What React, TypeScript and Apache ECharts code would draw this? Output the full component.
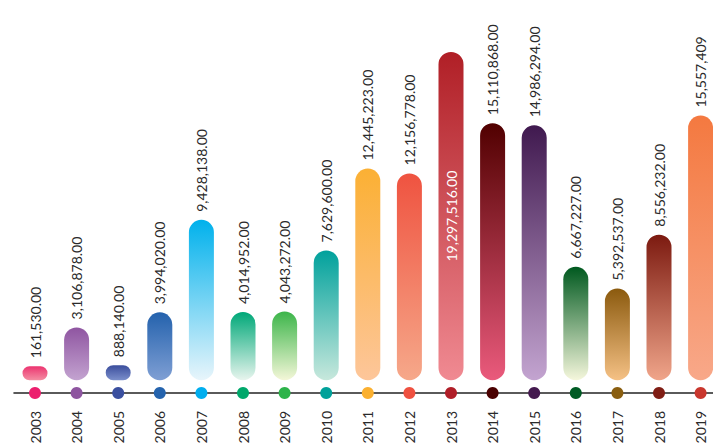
import React, { useEffect, useRef } from "react";
import * as echarts from "echarts";

const years = ["2003", "2004", "2005", "2006", "2007", "2008", "2009", "2010", "2011", "2012", "2013", "2014", "2015", "2016", "2017", "2018", "2019"];
const values = [161530, 3106878, 888140, 3994020, 9428138, 4014952, 4043272, 7629600, 12445223, 12156778, 19297516, 15110868, 14986294, 6667227, 5392537, 8556232, 15557409];
const labelDecimals = [2, 2, 2, 2, 2, 2, 2, 2, 2, 2, 2, 2, 2, 2, 2, 2, 0];
const insideLabel = [false, false, false, false, false, false, false, false, false, false, true, false, false, false, false, false, false];
const topColors = ["#ec3470", "#8f55a1", "#3a4d9c", "#2462ad", "#00b1ec", "#00a878", "#3cb54a", "#00a19c", "#fbb034", "#ef5340", "#b01f26", "#510000", "#40194f", "#00591f", "#8b5a0e", "#7c1a10", "#f47940"];
const bottomColors = ["#f48ea3", "#c3a3d0", "#7b8fcb", "#7f9fd4", "#e8f5fb", "#e8f5ee", "#f4f7d8", "#c7e8dc", "#fdc69a", "#f6a88a", "#f08a92", "#ea5a7c", "#c3a4d0", "#f5f7dc", "#f5c185", "#f0a58a", "#f8a889"];
const dotColors = ["#ec1f6e", "#8e55a0", "#3a4f9f", "#2563ad", "#00aeef", "#00a86b", "#2db34a", "#00a19a", "#fbb030", "#ef5140", "#b01e28", "#4a0000", "#44194f", "#005b24", "#8a5e10", "#7f1d14", "#c9372e"];
const yMin = -750000;
const yMax = 20000000;

const FONT = "Lato";

function fmt(v: number, d: number) {
  return v.toLocaleString("en-US", { minimumFractionDigits: d, maximumFractionDigits: d });
}

export default function App() {
  const ref = useRef<HTMLDivElement>(null);
  useEffect(() => {
    document.body.style.margin = "0";
    const chart = echarts.init(ref.current!, null, { renderer: "svg" });
    const barData = values.map((v, i) => ({
      value: v,
      itemStyle: {
        color: new echarts.graphic.LinearGradient(0, 0, 0, 1, [
          { offset: 0, color: topColors[i] },
          { offset: 1, color: bottomColors[i] },
        ]),
      },
      label: insideLabel[i]
        ? { position: "inside", align: "center", verticalAlign: "middle", color: "#ffffff" }
        : undefined,
    }));
    const dotData = years.map((_, i) => ({ value: yMin, itemStyle: { color: dotColors[i], opacity: 1 } }));
    chart.setOption({
      animation: false,
      grid: { left: 14.2, width: 707.2, top: 40, bottom: 52, outerBoundsMode: "none" },
      xAxis: {
        type: "category",
        data: years,
        axisLine: { onZero: false, lineStyle: { color: "#5a5a5a", width: 2 } },
        axisTick: { show: false },
        axisLabel: { rotate: 90, margin: 18, color: "#2a2a2a", fontFamily: FONT, fontSize: 14 },
      },
      yAxis: { type: "value", min: yMin, max: yMax, show: false, splitLine: { show: false } },
      series: [
        {
          type: "bar",
          data: barData,
          barWidth: 25,
          barMinHeight: 14,
          itemStyle: { borderRadius: 12.5 },
          label: {
            show: true,
            position: "top",
            distance: 8,
            rotate: 90,
            align: "left",
            verticalAlign: "middle",
            color: "#2a2a2a",
            fontFamily: FONT,
            fontSize: 14,
            formatter: (p: any) => fmt(values[p.dataIndex], labelDecimals[p.dataIndex]),
          },
        },
        {
          type: "scatter",
          data: dotData,
          symbolSize: 12,
          itemStyle: { opacity: 1 },
          z: 5,
        },
      ],
    });
    return () => chart.dispose();
  }, []);
  return <div ref={ref} style={{ width: 713, height: 445 }} />;
}
